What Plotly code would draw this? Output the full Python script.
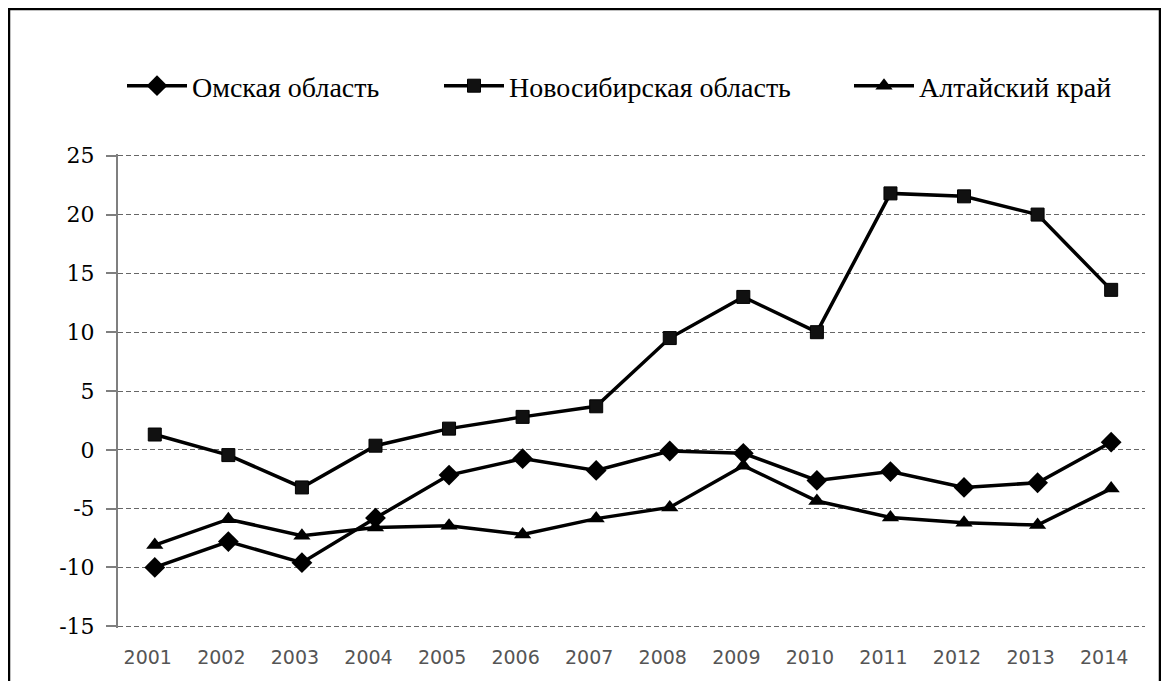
import plotly.graph_objects as go

years = ["2001", "2002", "2003", "2004", "2005", "2006", "2007",
         "2008", "2009", "2010", "2011", "2012", "2013", "2014"]
omsk = [-10.0, -7.8, -9.6, -5.8, -2.15, -0.75, -1.75, -0.1, -0.3, -2.6, -1.85, -3.2, -2.8, 0.65]
novosib = [1.3, -0.45, -3.2, 0.35, 1.8, 2.8, 3.7, 9.5, 13.0, 10.0, 21.8, 21.55, 20.0, 13.6]
altai = [-8.1, -5.9, -7.3, -6.6, -6.45, -7.2, -5.85, -4.9, -1.35, -4.35, -5.75, -6.2, -6.4, -3.3]

names = ["Омская область", "Новосибирская область", "Алтайский край"]
y_tickvals = [-15, -10, -5, 0, 5, 10, 15, 20, 25]
y_ticktext = ["-15", "-10", "-5", "0", "5", "10", "15", "20", "25"]

# page body has an 8px margin, so the figure is laid out in its own coordinates
W, H = 1161, 673
ML, MR, MT, MB = 110, 24, 146, 53
PW = W - ML - MR
PH = H - MT - MB

SERIF = "Liberation Serif, Times New Roman, serif"


def px_x(p):
    return (p - ML) / PW


def px_y(p):
    return (H - MB - p) / PH


fig = go.Figure()
fig.add_trace(go.Scatter(x=years, y=omsk, name=names[0], mode="lines+markers",
                         line=dict(color="black", width=3.5),
                         marker=dict(symbol="diamond", size=16, color="black"),
                         legend="legend"))
fig.add_trace(go.Scatter(x=years, y=novosib, name=names[1], mode="lines+markers",
                         line=dict(color="black", width=3.5),
                         marker=dict(symbol="square", size=13, color="#111111",
                                     line=dict(color="black", width=1)),
                         legend="legend2"))
fig.add_trace(go.Scatter(x=years, y=altai, name=names[2], mode="lines+markers",
                         line=dict(color="black", width=3.5),
                         marker=dict(symbol="triangle-up", size=15, color="black"),
                         legend="legend3"))

leg_font = dict(family=SERIF, size=28, color="black")
leg_common = dict(orientation="h", yanchor="middle", xanchor="left",
                  font=leg_font, bgcolor="rgba(0,0,0,0)", itemwidth=60)
ly = px_y(78)

fig.update_layout(
    width=W, height=H,
    margin=dict(l=ML, r=MR, t=MT, b=MB),
    paper_bgcolor="white", plot_bgcolor="white",
    font=dict(family=SERIF, color="black"),
    showlegend=True,
    legend=dict(x=px_x(114), y=ly, **leg_common),
    legend2=dict(x=px_x(431), y=ly, **leg_common),
    legend3=dict(x=px_x(841), y=ly, **leg_common),
    xaxis=dict(type="category", range=[-0.5, 13.46], showgrid=False,
               showline=False, zeroline=False, ticks="",
               tickfont=dict(family="DejaVu Sans", size=19, color="#555555"),
               ticklabelstandoff=16, ticklabelshift=-7),
    yaxis=dict(range=[-15.15, 25.15], tickmode="array", tickvals=y_tickvals,
               ticktext=y_ticktext, showgrid=True,
               gridcolor="#666666", griddash="5px,3px", gridwidth=1,
               zeroline=False, showline=True, linecolor="#7f7f7f", linewidth=2,
               ticks="outside", ticklen=10, tickcolor="#7f7f7f", tickwidth=1.5,
               tickfont=dict(family="DejaVu Serif", size=22, color="black"),
               ticklabelstandoff=7),
    shapes=[dict(type="rect", xref="paper", yref="paper",
                 x0=px_x(1), x1=px_x(1152), y0=px_y(720), y1=px_y(1),
                 line=dict(color="black", width=2.5), layer="above")],
)

fig.write_html("out.html")
